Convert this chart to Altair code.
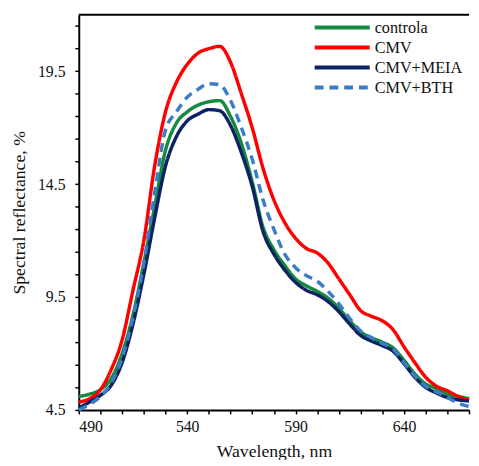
import altair as alt
import pandas as pd

# ---- data ----
wavelength = list(range(490, 675, 5))
controla = [5.1, 5.2, 5.4, 5.9, 7.0, 8.7, 11.0, 13.5, 16.0, 17.2, 17.7, 18.0, 18.15, 18.2,
            17.5, 16.3, 14.6, 12.6, 11.6, 10.9, 10.3, 10.0, 9.75, 9.45, 9.0, 8.45, 7.95,
            7.7, 7.5, 7.25, 6.7, 6.1, 5.65, 5.45, 5.2, 5.1, 5.0]
cmv = [4.85, 5.0, 5.4, 6.3, 7.6, 9.8, 12.0, 15.3, 17.7, 19.0, 19.8, 20.3, 20.5, 20.6,
       19.9, 18.5, 17.0, 15.2, 13.8, 12.8, 12.1, 11.65, 11.45, 11.0, 10.3, 9.6, 8.9,
       8.65, 8.45, 8.05, 7.3, 6.6, 5.95, 5.55, 5.35, 5.1, 4.95]
cmv_meia = [4.6, 4.85, 5.15, 5.6, 6.6, 8.3, 10.5, 13.0, 15.3, 16.6, 17.3, 17.6, 17.8, 17.75,
            17.1, 15.9, 14.4, 12.4, 11.4, 10.7, 10.15, 9.8, 9.6, 9.3, 8.85, 8.3, 7.8,
            7.55, 7.35, 7.1, 6.55, 5.95, 5.5, 5.25, 5.05, 4.95, 4.9]
cmv_bth = [4.5, 4.75, 5.1, 5.7, 6.8, 8.6, 11.0, 14.1, 16.9, 17.7, 18.35, 18.7, 18.95, 18.9,
           18.2, 17.0, 15.6, 13.8, 12.5, 11.4, 10.8, 10.45, 10.2, 9.75, 9.2, 8.55, 8.0,
           7.7, 7.45, 7.2, 6.6, 6.0, 5.55, 5.3, 5.05, 4.8, 4.65]

series_names = ["controla", "CMV", "CMV+MEIA", "CMV+BTH"]
series_values = [controla, cmv, cmv_meia, cmv_bth]
series_colors = ["#138a3e", "#ff0000", "#0c2262", "#3b7dc4"]
series_dashes = [[1, 0], [1, 0], [1, 0], [9, 6]]

x_tick_values = list(range(490, 671, 10))
x_label_values = [490, 540, 590, 640]
y_tick_values = [4.5 + i for i in range(18)]
y_label_values = [4.5, 9.5, 14.5, 19.5]

rows = []
for i, (name, vals) in enumerate(zip(series_names, series_values)):
    for w, v in zip(wavelength, vals):
        rows.append({"wavelength": w, "value": v, "series": name, "order": i})
df = pd.DataFrame(rows)
legend_df = pd.DataFrame({"series": series_names, "idx": list(range(len(series_names)))})

FONT = "Liberation Serif"

color_scale = alt.Scale(domain=series_names, range=series_colors)
dash_scale = alt.Scale(domain=series_names, range=series_dashes)


def label_expr(values):
    arr = "[" + ",".join(str(v) for v in values) + "]"
    return f"indexof({arr}, datum.value) >= 0 ? datum.label : ''"


lines = alt.Chart(df).mark_line(strokeWidth=3.5, interpolate="monotone").encode(
    x=alt.X("wavelength:Q",
            scale=alt.Scale(domain=[490, 670], nice=False, zero=False),
            axis=alt.Axis(values=x_tick_values, labelExpr=label_expr(x_label_values),
                          title="Wavelength, nm", grid=False, format="d",
                          titlePadding=8, labelPadding=5,
                          labelFont=FONT, titleFont=FONT)),
    y=alt.Y("value:Q",
            scale=alt.Scale(domain=[4.5, 22], nice=False, zero=False),
            axis=alt.Axis(values=y_tick_values, labelExpr=label_expr(y_label_values),
                          title="Spectral reflectance, %", grid=False, format=".1f",
                          titlePadding=9, labelPadding=10,
                          labelFont=FONT, titleFont=FONT)),
    color=alt.Color("series:N", scale=color_scale, legend=None),
    strokeDash=alt.StrokeDash("series:N", scale=dash_scale, legend=None),
    order=alt.Order("order:Q"),
)

# manual legend (pixel positions relative to the plot area)
legend_base = alt.Chart(legend_df).transform_calculate(
    py="13 + datum.idx * 20.3", x1="240", x2="296", tx="301"
)
legend_lines = legend_base.mark_rule(strokeWidth=4).encode(
    x=alt.X("x1:Q", scale=None), x2="x2:Q",
    y=alt.Y("py:Q", scale=None),
    color=alt.Color("series:N", scale=color_scale, legend=None),
    strokeDash=alt.StrokeDash("series:N", scale=dash_scale, legend=None),
)
legend_text = legend_base.mark_text(
    align="left", baseline="middle", font=FONT, fontSize=16.5, color="#111", dy=1
).encode(
    x=alt.X("tx:Q", scale=None), y=alt.Y("py:Q", scale=None), text="series:N"
)

top_border = alt.Chart(pd.DataFrame({"a": [0]})).mark_rule(
    color="black", strokeWidth=2
).encode(x=alt.value(0), x2=alt.value(397), y=alt.value(0))

chart = alt.layer(lines, legend_lines, legend_text, top_border).resolve_scale(
    x="independent", y="independent"
).properties(
    width=397, height=402,
    autosize=alt.AutoSizeParams(type="none"),
    padding={"left": 72, "top": 3, "right": 2, "bottom": 47},
).configure_view(stroke=None).configure_axis(
    labelFontSize=16, titleFontSize=18,
    labelColor="#111", titleColor="#111", titleFontWeight="normal",
    domainColor="black", domainWidth=2, tickColor="black", tickWidth=1.5, tickSize=4,
)

chart.save("out.html", embed_options={"renderer": "svg", "actions": False})
